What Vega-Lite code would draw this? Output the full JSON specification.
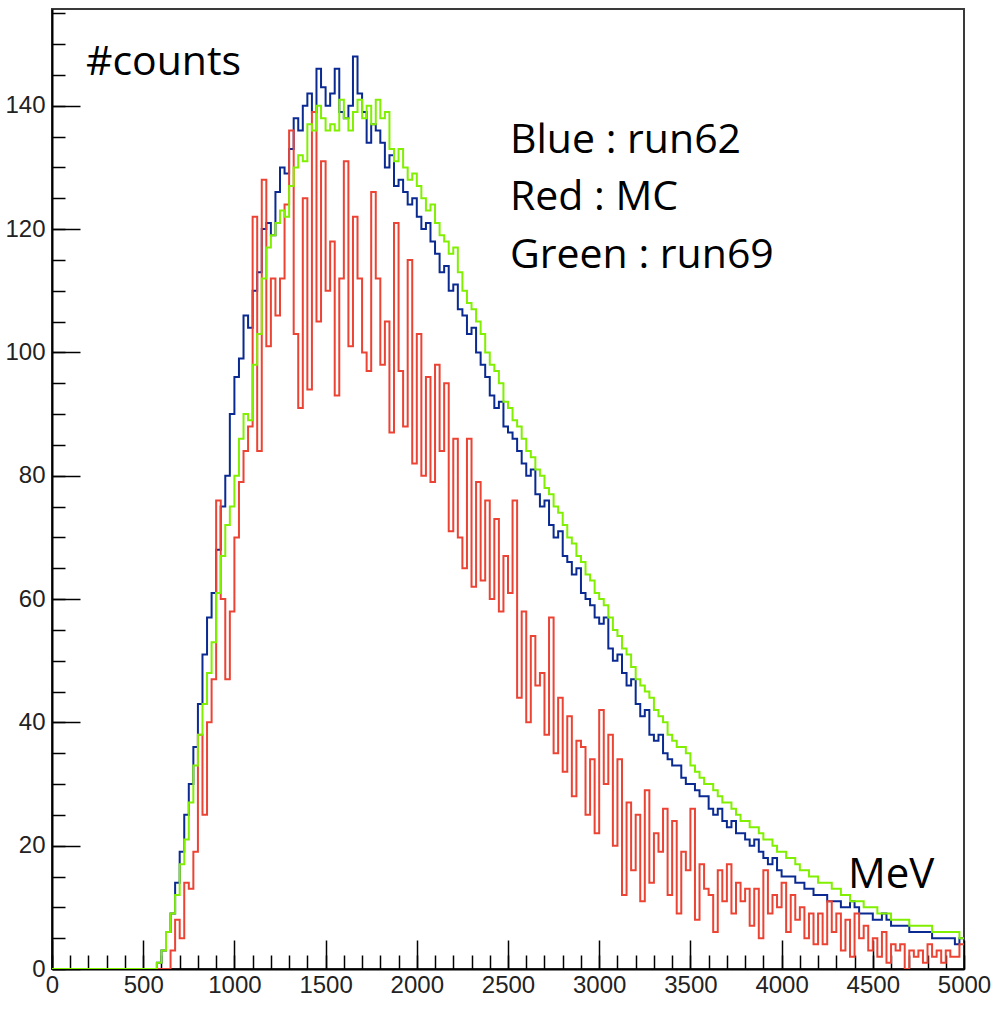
{
"$schema":"https://vega.github.io/schema/vega-lite/v6.json",
"width":912,"height":960,
"autosize":{"type":"none"},
"padding":{"left":52,"top":9,"right":28,"bottom":43},
"background":"white",
"config":{"view":{"stroke":"#3a3a3a","strokeWidth":2},"axis":{"grid":false}},
"resolve":{"axis":{"x":"independent","y":"independent"}},
"layer":[
{"data":{"values":[
{"s":"run62","x":0,"y":0},{"s":"run62","x":25,"y":0},{"s":"run62","x":50,"y":0},{"s":"run62","x":75,"y":0},{"s":"run62","x":100,"y":0},{"s":"run62","x":125,"y":0},{"s":"run62","x":150,"y":0},{"s":"run62","x":175,"y":0},{"s":"run62","x":200,"y":0},{"s":"run62","x":225,"y":0},{"s":"run62","x":250,"y":0},{"s":"run62","x":275,"y":0},{"s":"run62","x":300,"y":0},{"s":"run62","x":325,"y":0},{"s":"run62","x":350,"y":0},{"s":"run62","x":375,"y":0},{"s":"run62","x":400,"y":0},{"s":"run62","x":425,"y":0},{"s":"run62","x":450,"y":0},{"s":"run62","x":475,"y":0},{"s":"run62","x":500,"y":0},{"s":"run62","x":525,"y":0},{"s":"run62","x":550,"y":0},
{"s":"run62","x":575,"y":1},{"s":"run62","x":600,"y":3},{"s":"run62","x":625,"y":6},{"s":"run62","x":650,"y":9},{"s":"run62","x":675,"y":14},{"s":"run62","x":700,"y":19},{"s":"run62","x":725,"y":25},{"s":"run62","x":750,"y":30},{"s":"run62","x":775,"y":36},{"s":"run62","x":800,"y":43},{"s":"run62","x":825,"y":51},{"s":"run62","x":850,"y":57},{"s":"run62","x":875,"y":61},{"s":"run62","x":900,"y":68},{"s":"run62","x":925,"y":75},{"s":"run62","x":950,"y":80},{"s":"run62","x":975,"y":90},
{"s":"run62","x":1000,"y":96},{"s":"run62","x":1025,"y":99},{"s":"run62","x":1050,"y":106},{"s":"run62","x":1075,"y":104},{"s":"run62","x":1100,"y":110},{"s":"run62","x":1125,"y":113},{"s":"run62","x":1150,"y":120},{"s":"run62","x":1175,"y":121},{"s":"run62","x":1200,"y":119},{"s":"run62","x":1225,"y":126},{"s":"run62","x":1250,"y":130},{"s":"run62","x":1275,"y":129},{"s":"run62","x":1300,"y":133},{"s":"run62","x":1325,"y":138},{"s":"run62","x":1350,"y":136},{"s":"run62","x":1375,"y":140},{"s":"run62","x":1400,"y":142},{"s":"run62","x":1425,"y":139},{"s":"run62","x":1450,"y":146},{"s":"run62","x":1475,"y":143},
{"s":"run62","x":1500,"y":140},{"s":"run62","x":1525,"y":142},{"s":"run62","x":1550,"y":146},{"s":"run62","x":1575,"y":139},{"s":"run62","x":1600,"y":138},{"s":"run62","x":1625,"y":140},{"s":"run62","x":1650,"y":148},{"s":"run62","x":1675,"y":142},{"s":"run62","x":1700,"y":139},{"s":"run62","x":1725,"y":134},{"s":"run62","x":1750,"y":137},{"s":"run62","x":1775,"y":136},{"s":"run62","x":1800,"y":134},{"s":"run62","x":1825,"y":130},{"s":"run62","x":1850,"y":132},{"s":"run62","x":1875,"y":127},{"s":"run62","x":1900,"y":128},{"s":"run62","x":1925,"y":126},{"s":"run62","x":1950,"y":124},{"s":"run62","x":1975,"y":125},
{"s":"run62","x":2000,"y":122},{"s":"run62","x":2025,"y":120},{"s":"run62","x":2050,"y":121},{"s":"run62","x":2075,"y":118},{"s":"run62","x":2100,"y":116},{"s":"run62","x":2125,"y":113},{"s":"run62","x":2150,"y":114},{"s":"run62","x":2175,"y":110},{"s":"run62","x":2200,"y":111},{"s":"run62","x":2225,"y":107},{"s":"run62","x":2250,"y":106},{"s":"run62","x":2275,"y":103},{"s":"run62","x":2300,"y":104},{"s":"run62","x":2325,"y":100},{"s":"run62","x":2350,"y":98},{"s":"run62","x":2375,"y":96},{"s":"run62","x":2400,"y":93},{"s":"run62","x":2425,"y":91},{"s":"run62","x":2450,"y":92},{"s":"run62","x":2475,"y":88},
{"s":"run62","x":2500,"y":87},{"s":"run62","x":2525,"y":86},{"s":"run62","x":2550,"y":84},{"s":"run62","x":2575,"y":82},{"s":"run62","x":2600,"y":80},{"s":"run62","x":2625,"y":81},{"s":"run62","x":2650,"y":77},{"s":"run62","x":2675,"y":75},{"s":"run62","x":2700,"y":76},{"s":"run62","x":2725,"y":72},{"s":"run62","x":2750,"y":70},{"s":"run62","x":2775,"y":71},{"s":"run62","x":2800,"y":67},{"s":"run62","x":2825,"y":66},{"s":"run62","x":2850,"y":64},{"s":"run62","x":2875,"y":65},{"s":"run62","x":2900,"y":61},{"s":"run62","x":2925,"y":60},{"s":"run62","x":2950,"y":59},{"s":"run62","x":2975,"y":57},
{"s":"run62","x":3000,"y":56},{"s":"run62","x":3025,"y":57},{"s":"run62","x":3050,"y":52},{"s":"run62","x":3075,"y":50},{"s":"run62","x":3100,"y":51},{"s":"run62","x":3125,"y":48},{"s":"run62","x":3150,"y":46},{"s":"run62","x":3175,"y":47},{"s":"run62","x":3200,"y":43},{"s":"run62","x":3225,"y":41},{"s":"run62","x":3250,"y":42},{"s":"run62","x":3275,"y":38},{"s":"run62","x":3300,"y":37},{"s":"run62","x":3325,"y":38},{"s":"run62","x":3350,"y":35},{"s":"run62","x":3375,"y":34},{"s":"run62","x":3400,"y":33},{"s":"run62","x":3425,"y":33},{"s":"run62","x":3450,"y":31},{"s":"run62","x":3475,"y":30},
{"s":"run62","x":3500,"y":30},{"s":"run62","x":3525,"y":29},{"s":"run62","x":3550,"y":28},{"s":"run62","x":3575,"y":28},{"s":"run62","x":3600,"y":26},{"s":"run62","x":3625,"y":25},{"s":"run62","x":3650,"y":26},{"s":"run62","x":3675,"y":24},{"s":"run62","x":3700,"y":23},{"s":"run62","x":3725,"y":24},{"s":"run62","x":3750,"y":22},{"s":"run62","x":3775,"y":22},{"s":"run62","x":3800,"y":21},{"s":"run62","x":3825,"y":20},{"s":"run62","x":3850,"y":21},{"s":"run62","x":3875,"y":19},{"s":"run62","x":3900,"y":18},{"s":"run62","x":3925,"y":17},{"s":"run62","x":3950,"y":18},{"s":"run62","x":3975,"y":16},
{"s":"run62","x":4000,"y":15},{"s":"run62","x":4025,"y":15},{"s":"run62","x":4050,"y":15},{"s":"run62","x":4075,"y":14},{"s":"run62","x":4100,"y":14},{"s":"run62","x":4125,"y":13},{"s":"run62","x":4150,"y":13},{"s":"run62","x":4175,"y":12},{"s":"run62","x":4200,"y":12},{"s":"run62","x":4225,"y":12},{"s":"run62","x":4250,"y":11},{"s":"run62","x":4275,"y":11},{"s":"run62","x":4300,"y":11},{"s":"run62","x":4325,"y":10},{"s":"run62","x":4350,"y":10},{"s":"run62","x":4375,"y":11},{"s":"run62","x":4400,"y":10},{"s":"run62","x":4425,"y":9},{"s":"run62","x":4450,"y":9},{"s":"run62","x":4475,"y":9},
{"s":"run62","x":4500,"y":8},{"s":"run62","x":4525,"y":8},{"s":"run62","x":4550,"y":9},{"s":"run62","x":4575,"y":8},{"s":"run62","x":4600,"y":7},{"s":"run62","x":4625,"y":7},{"s":"run62","x":4650,"y":7},{"s":"run62","x":4675,"y":7},{"s":"run62","x":4700,"y":6},{"s":"run62","x":4725,"y":6},{"s":"run62","x":4750,"y":6},{"s":"run62","x":4775,"y":6},{"s":"run62","x":4800,"y":6},{"s":"run62","x":4825,"y":5},{"s":"run62","x":4850,"y":5},{"s":"run62","x":4875,"y":5},{"s":"run62","x":4900,"y":5},{"s":"run62","x":4925,"y":5},{"s":"run62","x":4950,"y":4},{"s":"run62","x":4975,"y":5},{"s":"run62","x":5000,"y":5},
{"s":"MC","x":0,"y":0},{"s":"MC","x":25,"y":0},{"s":"MC","x":50,"y":0},{"s":"MC","x":75,"y":0},{"s":"MC","x":100,"y":0},{"s":"MC","x":125,"y":0},{"s":"MC","x":150,"y":0},{"s":"MC","x":175,"y":0},{"s":"MC","x":200,"y":0},{"s":"MC","x":225,"y":0},{"s":"MC","x":250,"y":0},{"s":"MC","x":275,"y":0},{"s":"MC","x":300,"y":0},{"s":"MC","x":325,"y":0},{"s":"MC","x":350,"y":0},{"s":"MC","x":375,"y":0},{"s":"MC","x":400,"y":0},{"s":"MC","x":425,"y":0},{"s":"MC","x":450,"y":0},{"s":"MC","x":475,"y":0},{"s":"MC","x":500,"y":0},{"s":"MC","x":525,"y":0},{"s":"MC","x":550,"y":0},{"s":"MC","x":575,"y":0},{"s":"MC","x":600,"y":0},{"s":"MC","x":625,"y":0},
{"s":"MC","x":650,"y":3},{"s":"MC","x":675,"y":8},{"s":"MC","x":700,"y":5},{"s":"MC","x":725,"y":14},{"s":"MC","x":750,"y":13},{"s":"MC","x":775,"y":19},{"s":"MC","x":800,"y":38},{"s":"MC","x":825,"y":25},{"s":"MC","x":850,"y":40},{"s":"MC","x":875,"y":47},{"s":"MC","x":900,"y":76},{"s":"MC","x":925,"y":60},{"s":"MC","x":950,"y":47},{"s":"MC","x":975,"y":58},
{"s":"MC","x":1000,"y":70},{"s":"MC","x":1025,"y":79},{"s":"MC","x":1050,"y":84},{"s":"MC","x":1075,"y":88},{"s":"MC","x":1100,"y":122},{"s":"MC","x":1125,"y":84},{"s":"MC","x":1150,"y":128},{"s":"MC","x":1175,"y":101},{"s":"MC","x":1200,"y":112},{"s":"MC","x":1225,"y":106},{"s":"MC","x":1250,"y":112},{"s":"MC","x":1275,"y":124},{"s":"MC","x":1300,"y":136},{"s":"MC","x":1325,"y":103},{"s":"MC","x":1350,"y":91},{"s":"MC","x":1375,"y":125},{"s":"MC","x":1400,"y":94},{"s":"MC","x":1425,"y":139},{"s":"MC","x":1450,"y":105},{"s":"MC","x":1475,"y":131},
{"s":"MC","x":1500,"y":110},{"s":"MC","x":1525,"y":118},{"s":"MC","x":1550,"y":93},{"s":"MC","x":1575,"y":112},{"s":"MC","x":1600,"y":131},{"s":"MC","x":1625,"y":101},{"s":"MC","x":1650,"y":122},{"s":"MC","x":1675,"y":112},{"s":"MC","x":1700,"y":100},{"s":"MC","x":1725,"y":97},{"s":"MC","x":1750,"y":126},{"s":"MC","x":1775,"y":112},{"s":"MC","x":1800,"y":98},{"s":"MC","x":1825,"y":105},{"s":"MC","x":1850,"y":87},{"s":"MC","x":1875,"y":121},{"s":"MC","x":1900,"y":97},{"s":"MC","x":1925,"y":88},{"s":"MC","x":1950,"y":115},{"s":"MC","x":1975,"y":82},
{"s":"MC","x":2000,"y":103},{"s":"MC","x":2025,"y":80},{"s":"MC","x":2050,"y":96},{"s":"MC","x":2075,"y":79},{"s":"MC","x":2100,"y":98},{"s":"MC","x":2125,"y":84},{"s":"MC","x":2150,"y":95},{"s":"MC","x":2175,"y":71},{"s":"MC","x":2200,"y":86},{"s":"MC","x":2225,"y":70},{"s":"MC","x":2250,"y":65},{"s":"MC","x":2275,"y":86},{"s":"MC","x":2300,"y":62},{"s":"MC","x":2325,"y":79},{"s":"MC","x":2350,"y":63},{"s":"MC","x":2375,"y":76},{"s":"MC","x":2400,"y":60},{"s":"MC","x":2425,"y":73},{"s":"MC","x":2450,"y":58},{"s":"MC","x":2475,"y":67},
{"s":"MC","x":2500,"y":61},{"s":"MC","x":2525,"y":76},{"s":"MC","x":2550,"y":44},{"s":"MC","x":2575,"y":58},{"s":"MC","x":2600,"y":40},{"s":"MC","x":2625,"y":54},{"s":"MC","x":2650,"y":46},{"s":"MC","x":2675,"y":48},{"s":"MC","x":2700,"y":38},{"s":"MC","x":2725,"y":57},{"s":"MC","x":2750,"y":35},{"s":"MC","x":2775,"y":44},{"s":"MC","x":2800,"y":32},{"s":"MC","x":2825,"y":41},{"s":"MC","x":2850,"y":28},{"s":"MC","x":2875,"y":37},{"s":"MC","x":2900,"y":36},{"s":"MC","x":2925,"y":25},{"s":"MC","x":2950,"y":34},{"s":"MC","x":2975,"y":22},
{"s":"MC","x":3000,"y":42},{"s":"MC","x":3025,"y":30},{"s":"MC","x":3050,"y":38},{"s":"MC","x":3075,"y":20},{"s":"MC","x":3100,"y":34},{"s":"MC","x":3125,"y":12},{"s":"MC","x":3150,"y":27},{"s":"MC","x":3175,"y":16},{"s":"MC","x":3200,"y":25},{"s":"MC","x":3225,"y":11},{"s":"MC","x":3250,"y":29},{"s":"MC","x":3275,"y":14},{"s":"MC","x":3300,"y":22},{"s":"MC","x":3325,"y":19},{"s":"MC","x":3350,"y":26},{"s":"MC","x":3375,"y":12},{"s":"MC","x":3400,"y":24},{"s":"MC","x":3425,"y":9},{"s":"MC","x":3450,"y":19},{"s":"MC","x":3475,"y":16},
{"s":"MC","x":3500,"y":26},{"s":"MC","x":3525,"y":8},{"s":"MC","x":3550,"y":17},{"s":"MC","x":3575,"y":13},{"s":"MC","x":3600,"y":12},{"s":"MC","x":3625,"y":6},{"s":"MC","x":3650,"y":16},{"s":"MC","x":3675,"y":11},{"s":"MC","x":3700,"y":17},{"s":"MC","x":3725,"y":9},{"s":"MC","x":3750,"y":14},{"s":"MC","x":3775,"y":11},{"s":"MC","x":3800,"y":13},{"s":"MC","x":3825,"y":7},{"s":"MC","x":3850,"y":13},{"s":"MC","x":3875,"y":5},{"s":"MC","x":3900,"y":16},{"s":"MC","x":3925,"y":9},{"s":"MC","x":3950,"y":12},{"s":"MC","x":3975,"y":10},
{"s":"MC","x":4000,"y":14},{"s":"MC","x":4025,"y":6},{"s":"MC","x":4050,"y":12},{"s":"MC","x":4075,"y":8},{"s":"MC","x":4100,"y":10},{"s":"MC","x":4125,"y":5},{"s":"MC","x":4150,"y":9},{"s":"MC","x":4175,"y":4},{"s":"MC","x":4200,"y":9},{"s":"MC","x":4225,"y":4},{"s":"MC","x":4250,"y":11},{"s":"MC","x":4275,"y":6},{"s":"MC","x":4300,"y":9},{"s":"MC","x":4325,"y":3},{"s":"MC","x":4350,"y":8},{"s":"MC","x":4375,"y":2},{"s":"MC","x":4400,"y":9},{"s":"MC","x":4425,"y":5},{"s":"MC","x":4450,"y":7},{"s":"MC","x":4475,"y":3},
{"s":"MC","x":4500,"y":5},{"s":"MC","x":4525,"y":2},{"s":"MC","x":4550,"y":6},{"s":"MC","x":4575,"y":1},{"s":"MC","x":4600,"y":4},{"s":"MC","x":4625,"y":3},{"s":"MC","x":4650,"y":4},{"s":"MC","x":4675,"y":0},{"s":"MC","x":4700,"y":3},{"s":"MC","x":4725,"y":2},{"s":"MC","x":4750,"y":3},{"s":"MC","x":4775,"y":1},{"s":"MC","x":4800,"y":4},{"s":"MC","x":4825,"y":2},{"s":"MC","x":4850,"y":3},{"s":"MC","x":4875,"y":1},{"s":"MC","x":4900,"y":3},{"s":"MC","x":4925,"y":2},{"s":"MC","x":4950,"y":2},{"s":"MC","x":4975,"y":4},{"s":"MC","x":5000,"y":4},
{"s":"run69","x":0,"y":0},{"s":"run69","x":25,"y":0},{"s":"run69","x":50,"y":0},{"s":"run69","x":75,"y":0},{"s":"run69","x":100,"y":0},{"s":"run69","x":125,"y":0},{"s":"run69","x":150,"y":0},{"s":"run69","x":175,"y":0},{"s":"run69","x":200,"y":0},{"s":"run69","x":225,"y":0},{"s":"run69","x":250,"y":0},{"s":"run69","x":275,"y":0},{"s":"run69","x":300,"y":0},{"s":"run69","x":325,"y":0},{"s":"run69","x":350,"y":0},{"s":"run69","x":375,"y":0},{"s":"run69","x":400,"y":0},{"s":"run69","x":425,"y":0},{"s":"run69","x":450,"y":0},{"s":"run69","x":475,"y":0},{"s":"run69","x":500,"y":0},{"s":"run69","x":525,"y":0},{"s":"run69","x":550,"y":0},
{"s":"run69","x":575,"y":1},{"s":"run69","x":600,"y":3},{"s":"run69","x":625,"y":6},{"s":"run69","x":650,"y":9},{"s":"run69","x":675,"y":12},{"s":"run69","x":700,"y":17},{"s":"run69","x":725,"y":21},{"s":"run69","x":750,"y":27},{"s":"run69","x":775,"y":33},{"s":"run69","x":800,"y":38},{"s":"run69","x":825,"y":43},{"s":"run69","x":850,"y":48},{"s":"run69","x":875,"y":53},{"s":"run69","x":900,"y":61},{"s":"run69","x":925,"y":67},{"s":"run69","x":950,"y":72},{"s":"run69","x":975,"y":75},
{"s":"run69","x":1000,"y":80},{"s":"run69","x":1025,"y":86},{"s":"run69","x":1050,"y":90},{"s":"run69","x":1075,"y":89},{"s":"run69","x":1100,"y":98},{"s":"run69","x":1125,"y":103},{"s":"run69","x":1150,"y":112},{"s":"run69","x":1175,"y":117},{"s":"run69","x":1200,"y":119},{"s":"run69","x":1225,"y":121},{"s":"run69","x":1250,"y":123},{"s":"run69","x":1275,"y":122},{"s":"run69","x":1300,"y":127},{"s":"run69","x":1325,"y":130},{"s":"run69","x":1350,"y":132},{"s":"run69","x":1375,"y":131},{"s":"run69","x":1400,"y":137},{"s":"run69","x":1425,"y":136},{"s":"run69","x":1450,"y":140},{"s":"run69","x":1475,"y":138},
{"s":"run69","x":1500,"y":136},{"s":"run69","x":1525,"y":137},{"s":"run69","x":1550,"y":136},{"s":"run69","x":1575,"y":141},{"s":"run69","x":1600,"y":138},{"s":"run69","x":1625,"y":136},{"s":"run69","x":1650,"y":139},{"s":"run69","x":1675,"y":141},{"s":"run69","x":1700,"y":138},{"s":"run69","x":1725,"y":140},{"s":"run69","x":1750,"y":137},{"s":"run69","x":1775,"y":141},{"s":"run69","x":1800,"y":138},{"s":"run69","x":1825,"y":139},{"s":"run69","x":1850,"y":133},{"s":"run69","x":1875,"y":131},{"s":"run69","x":1900,"y":133},{"s":"run69","x":1925,"y":130},{"s":"run69","x":1950,"y":128},{"s":"run69","x":1975,"y":129},
{"s":"run69","x":2000,"y":127},{"s":"run69","x":2025,"y":125},{"s":"run69","x":2050,"y":123},{"s":"run69","x":2075,"y":124},{"s":"run69","x":2100,"y":121},{"s":"run69","x":2125,"y":119},{"s":"run69","x":2150,"y":118},{"s":"run69","x":2175,"y":116},{"s":"run69","x":2200,"y":117},{"s":"run69","x":2225,"y":113},{"s":"run69","x":2250,"y":110},{"s":"run69","x":2275,"y":108},{"s":"run69","x":2300,"y":107},{"s":"run69","x":2325,"y":105},{"s":"run69","x":2350,"y":103},{"s":"run69","x":2375,"y":100},{"s":"run69","x":2400,"y":98},{"s":"run69","x":2425,"y":97},{"s":"run69","x":2450,"y":95},{"s":"run69","x":2475,"y":92},
{"s":"run69","x":2500,"y":91},{"s":"run69","x":2525,"y":89},{"s":"run69","x":2550,"y":88},{"s":"run69","x":2575,"y":86},{"s":"run69","x":2600,"y":84},{"s":"run69","x":2625,"y":83},{"s":"run69","x":2650,"y":81},{"s":"run69","x":2675,"y":80},{"s":"run69","x":2700,"y":78},{"s":"run69","x":2725,"y":77},{"s":"run69","x":2750,"y":75},{"s":"run69","x":2775,"y":74},{"s":"run69","x":2800,"y":72},{"s":"run69","x":2825,"y":70},{"s":"run69","x":2850,"y":69},{"s":"run69","x":2875,"y":67},{"s":"run69","x":2900,"y":66},{"s":"run69","x":2925,"y":64},{"s":"run69","x":2950,"y":63},{"s":"run69","x":2975,"y":61},
{"s":"run69","x":3000,"y":60},{"s":"run69","x":3025,"y":59},{"s":"run69","x":3050,"y":57},{"s":"run69","x":3075,"y":55},{"s":"run69","x":3100,"y":54},{"s":"run69","x":3125,"y":52},{"s":"run69","x":3150,"y":51},{"s":"run69","x":3175,"y":49},{"s":"run69","x":3200,"y":47},{"s":"run69","x":3225,"y":46},{"s":"run69","x":3250,"y":45},{"s":"run69","x":3275,"y":44},{"s":"run69","x":3300,"y":42},{"s":"run69","x":3325,"y":41},{"s":"run69","x":3350,"y":40},{"s":"run69","x":3375,"y":38},{"s":"run69","x":3400,"y":37},{"s":"run69","x":3425,"y":36},{"s":"run69","x":3450,"y":36},{"s":"run69","x":3475,"y":35},
{"s":"run69","x":3500,"y":33},{"s":"run69","x":3525,"y":32},{"s":"run69","x":3550,"y":31},{"s":"run69","x":3575,"y":30},{"s":"run69","x":3600,"y":30},{"s":"run69","x":3625,"y":29},{"s":"run69","x":3650,"y":28},{"s":"run69","x":3675,"y":27},{"s":"run69","x":3700,"y":27},{"s":"run69","x":3725,"y":26},{"s":"run69","x":3750,"y":25},{"s":"run69","x":3775,"y":24},{"s":"run69","x":3800,"y":24},{"s":"run69","x":3825,"y":23},{"s":"run69","x":3850,"y":23},{"s":"run69","x":3875,"y":22},{"s":"run69","x":3900,"y":21},{"s":"run69","x":3925,"y":21},{"s":"run69","x":3950,"y":20},{"s":"run69","x":3975,"y":19},
{"s":"run69","x":4000,"y":19},{"s":"run69","x":4025,"y":18},{"s":"run69","x":4050,"y":18},{"s":"run69","x":4075,"y":17},{"s":"run69","x":4100,"y":16},{"s":"run69","x":4125,"y":16},{"s":"run69","x":4150,"y":15},{"s":"run69","x":4175,"y":15},{"s":"run69","x":4200,"y":14},{"s":"run69","x":4225,"y":14},{"s":"run69","x":4250,"y":14},{"s":"run69","x":4275,"y":13},{"s":"run69","x":4300,"y":13},{"s":"run69","x":4325,"y":12},{"s":"run69","x":4350,"y":12},{"s":"run69","x":4375,"y":11},{"s":"run69","x":4400,"y":11},{"s":"run69","x":4425,"y":11},{"s":"run69","x":4450,"y":10},{"s":"run69","x":4475,"y":10},
{"s":"run69","x":4500,"y":10},{"s":"run69","x":4525,"y":9},{"s":"run69","x":4550,"y":9},{"s":"run69","x":4575,"y":9},{"s":"run69","x":4600,"y":8},{"s":"run69","x":4625,"y":8},{"s":"run69","x":4650,"y":8},{"s":"run69","x":4675,"y":8},{"s":"run69","x":4700,"y":7},{"s":"run69","x":4725,"y":7},{"s":"run69","x":4750,"y":7},{"s":"run69","x":4775,"y":7},{"s":"run69","x":4800,"y":7},{"s":"run69","x":4825,"y":6},{"s":"run69","x":4850,"y":6},{"s":"run69","x":4875,"y":6},{"s":"run69","x":4900,"y":6},{"s":"run69","x":4925,"y":6},{"s":"run69","x":4950,"y":6},{"s":"run69","x":4975,"y":5},{"s":"run69","x":5000,"y":5}
]},
"mark":{"type":"line","interpolate":"step-after","strokeWidth":2,"clip":true},
"encoding":{
"x":{"field":"x","type":"quantitative","scale":{"domain":[0,5000],"nice":false,"zero":false},
"axis":{"orient":"bottom","values":[0,500,1000,1500,2000,2500,3000,3500,4000,4500,5000],"format":"d","ticks":false,"domain":true,"domainColor":"#000","domainWidth":2,"labelFont":"Liberation Sans","labelFontSize":24,"labelColor":"#222","labelPadding":4,"labelFlush":false,"labelOverlap":false,"title":null,"grid":false}},
"y":{"field":"y","type":"quantitative","scale":{"domain":[0,155.7],"nice":false,"zero":true},
"axis":{"orient":"left","values":[0,20,40,60,80,100,120,140],"format":"d","ticks":false,"domain":true,"domainColor":"#000","domainWidth":2,"labelFont":"Liberation Sans","labelFontSize":24,"labelColor":"#222","labelPadding":7,"labelOverlap":false,"title":null,"grid":false}},
"color":{"field":"s","type":"nominal","scale":{"domain":["run62","MC","run69"],"range":["#0a2a92","#eb4334","#80f000"]},"legend":null}
}},
{"data":{"values":[{}]},
"mark":{"type":"text","text":"#counts","font":"Open Sans","fontSize":41,"align":"left","baseline":"alphabetic","color":"#000"},
"encoding":{
"x":{"datum":186,"type":"quantitative","scale":{"domain":[0,5000],"nice":false,"zero":false},
"axis":{"orient":"top","offset":-960,"values":[0,500,1000,1500,2000,2500,3000,3500,4000,4500,5000],"ticks":true,"tickSize":29,"tickWidth":1.5,"tickColor":"#000","labels":false,"domain":false,"title":null,"grid":false}},
"y":{"datum":145,"type":"quantitative","scale":{"domain":[0,155.7],"nice":false,"zero":true},
"axis":{"orient":"right","offset":-912,"values":[0,20,40,60,80,100,120,140],"ticks":true,"tickSize":28,"tickWidth":1.5,"tickColor":"#000","labels":false,"domain":false,"title":null,"grid":false}}
}},
{"data":{"values":[{}]},
"mark":{"type":"text","text":"MeV","font":"Open Sans","fontSize":42,"align":"left","baseline":"alphabetic","color":"#000"},
"encoding":{
"x":{"datum":4364,"type":"quantitative","scale":{"domain":[0,5000],"nice":false,"zero":false},
"axis":{"orient":"top","offset":-960,"values":[0,100,200,300,400,500,600,700,800,900,1000,1100,1200,1300,1400,1500,1600,1700,1800,1900,2000,2100,2200,2300,2400,2500,2600,2700,2800,2900,3000,3100,3200,3300,3400,3500,3600,3700,3800,3900,4000,4100,4200,4300,4400,4500,4600,4700,4800,4900,5000],"ticks":true,"tickSize":14,"tickWidth":1.5,"tickColor":"#000","labels":false,"domain":false,"title":null,"grid":false}},
"y":{"datum":13.1,"type":"quantitative","scale":{"domain":[0,155.7],"nice":false,"zero":true},
"axis":{"orient":"right","offset":-912,"values":[0,5,10,15,20,25,30,35,40,45,50,55,60,65,70,75,80,85,90,95,100,105,110,115,120,125,130,135,140,145,150,155],"ticks":true,"tickSize":13,"tickWidth":1.5,"tickColor":"#000","labels":false,"domain":false,"title":null,"grid":false}}
}},
{"data":{"values":[{}]},
"mark":{"type":"text","text":["Blue : run62","Red : MC","Green : run69"],"lineHeight":57.5,"font":"Open Sans","fontSize":41,"align":"left","baseline":"alphabetic","color":"#000"},
"encoding":{
"x":{"datum":2511,"type":"quantitative","scale":{"domain":[0,5000],"nice":false,"zero":false},"axis":null},
"y":{"datum":132.4,"type":"quantitative","scale":{"domain":[0,155.7],"nice":false,"zero":true},"axis":null}
}}
]
}
